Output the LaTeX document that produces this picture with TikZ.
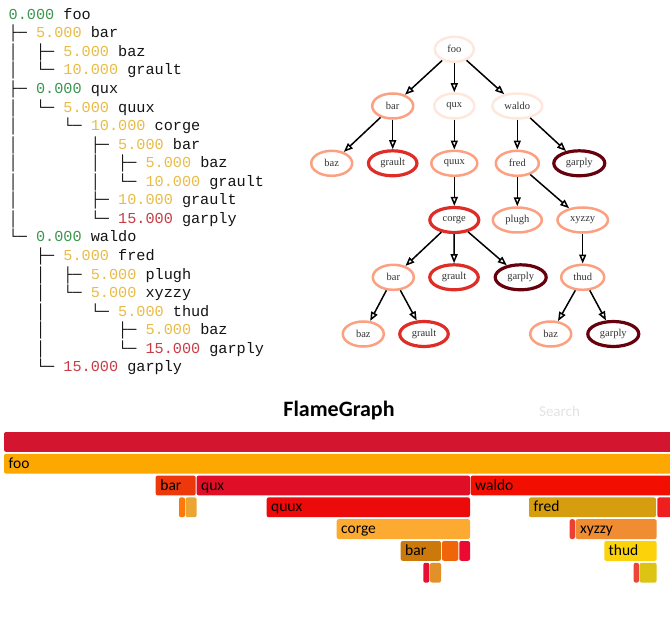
\documentclass[tikz,border=0pt]{standalone}
\usepackage{fontspec}
\setmainfont{Liberation Serif}
\newfontfamily\monof{Liberation Mono}
\newfontfamily\flamef{Carlito}
\usetikzlibrary{shapes.geometric,arrows.meta}
\definecolor{tgreen}{RGB}{60,150,80}
\definecolor{tyellow}{RGB}{232,188,72}
\definecolor{tred}{RGB}{200,60,70}
\definecolor{tdark}{RGB}{20,20,20}
\definecolor{glight}{RGB}{254,232,222}
\definecolor{gsalmon}{RGB}{252,160,130}
\definecolor{gred}{RGB}{222,45,38}
\definecolor{gdark}{RGB}{103,0,13}
\definecolor{cA}{RGB}{212,21,48}
\definecolor{cB}{RGB}{253,168,0}
\definecolor{cC}{RGB}{236,56,10}
\definecolor{cD}{RGB}{225,14,40}
\definecolor{cE}{RGB}{242,14,0}
\definecolor{cF}{RGB}{255,120,10}
\definecolor{cG}{RGB}{235,165,50}
\definecolor{cH}{RGB}{236,10,10}
\definecolor{cI}{RGB}{214,158,14}
\definecolor{cJ}{RGB}{240,30,30}
\definecolor{cK}{RGB}{252,170,50}
\definecolor{cL}{RGB}{238,64,50}
\definecolor{cM}{RGB}{240,140,50}
\definecolor{cN}{RGB}{205,120,10}
\definecolor{cO}{RGB}{240,100,10}
\definecolor{cP}{RGB}{235,10,50}
\definecolor{cQ}{RGB}{252,210,10}
\definecolor{cR}{RGB}{232,15,50}
\definecolor{cS}{RGB}{225,145,40}
\definecolor{cT}{RGB}{235,70,55}
\definecolor{cU}{RGB}{220,195,20}
\newcommand\Gn[1]{\textcolor{tgreen}{#1}}
\newcommand\Yl[1]{\textcolor{tyellow}{#1}}
\newcommand\Rd[1]{\textcolor{tred}{#1}}
\newcommand\fbar[4]{\fill[rounded corners=2pt,#4] (#1,{432+21.8*(#3-1)}) rectangle (#2,{432+21.8*(#3-1)+19.8});}
\begin{document}
\begin{tikzpicture}[x=1pt,y=-1pt,
  tl/.style={anchor=base west,inner sep=0,text=tdark,font=\monof\fontsize{15.2}{18}\selectfont},
  gn/.style={ellipse,draw,minimum height=25,inner sep=0,text=black!80,font=\fontsize{10.5}{12}\selectfont},
  lt/.style={gn,draw=glight,line width=2.5},
  sa/.style={gn,draw=gsalmon,line width=2.5},
  rd/.style={gn,draw=gred,line width=3.2},
  dk/.style={gn,draw=gdark,line width=3.2},
  ge/.style={-{Triangle[open,length=9pt,width=7pt]},line width=1.5,black},
  fl/.style={anchor=base west,inner sep=0,text=black,font=\flamef\fontsize{15.5}{18}\selectfont}]
\path[use as bounding box] (0,0) rectangle (670,618);
\clip (0,0) rectangle (670,618);
% ---------- text tree ----------
\node[tl] (t1)  at (8.5,{19.3+18.55*0})  {\Gn{0.000}~foo};
\node[tl] (t2)  at (8.5,{19.3+18.55*1})  {├─~\Yl{5.000}~bar};
\node[tl] (t3)  at (8.5,{19.3+18.55*2})  {│~~├─~\Yl{5.000}~baz};
\node[tl] (t4)  at (8.5,{19.3+18.55*3})  {│~~└─~\Yl{10.000}~grault};
\node[tl] (t5)  at (8.5,{19.3+18.55*4})  {├─~\Gn{0.000}~qux};
\node[tl] (t6)  at (8.5,{19.3+18.55*5})  {│~~└─~\Yl{5.000}~quux};
\node[tl] (t7)  at (8.5,{19.3+18.55*6})  {│~~~~~└─~\Yl{10.000}~corge};
\node[tl] (t8)  at (8.5,{19.3+18.55*7})  {│~~~~~~~~├─~\Yl{5.000}~bar};
\node[tl] (t9)  at (8.5,{19.3+18.55*8})  {│~~~~~~~~│~~├─~\Yl{5.000}~baz};
\node[tl] (t10) at (8.5,{19.3+18.55*9})  {│~~~~~~~~│~~└─~\Yl{10.000}~grault};
\node[tl] (t11) at (8.5,{19.3+18.55*10}) {│~~~~~~~~├─~\Yl{10.000}~grault};
\node[tl] (t12) at (8.5,{19.3+18.55*11}) {│~~~~~~~~└─~\Rd{15.000}~garply};
\node[tl] (t13) at (8.5,{19.3+18.55*12}) {└─~\Gn{0.000}~waldo};
\node[tl] (t14) at (8.5,{19.3+18.55*13}) {~~~├─~\Yl{5.000}~fred};
\node[tl] (t15) at (8.5,{19.3+18.55*14}) {~~~│~~├─~\Yl{5.000}~plugh};
\node[tl] (t16) at (8.5,{19.3+18.55*15}) {~~~│~~└─~\Yl{5.000}~xyzzy};
\node[tl] (t17) at (8.5,{19.3+18.55*16}) {~~~│~~~~~└─~\Yl{5.000}~thud};
\node[tl] (t18) at (8.5,{19.3+18.55*17}) {~~~│~~~~~~~~├─~\Yl{5.000}~baz};
\node[tl] (t19) at (8.5,{19.3+18.55*18}) {~~~│~~~~~~~~└─~\Rd{15.000}~garply};
\node[tl] (t20) at (8.5,{19.3+18.55*19}) {~~~└─~\Rd{15.000}~garply};
% ---------- graph ----------
\node[lt,minimum width=39] (foo) at (454.3,49.3) {foo};
\node[sa,minimum width=41] (bar) at (392.7,106) {bar};
\node[lt,minimum width=40] (qux) at (454.3,106) {qux};
\node[lt,minimum width=50] (waldo) at (517.3,106) {waldo};
\node[sa,minimum width=41] (baz) at (331.7,163.3) {baz};
\node[rd,minimum width=48.5] (grault) at (392.7,163.3) {grault};
\node[sa,minimum width=46] (quux) at (454.3,163.3) {quux};
\node[sa,minimum width=43] (fred) at (517.3,163.3) {fred};
\node[dk,minimum width=51] (garply) at (579.3,163.3) {garply};
\node[rd,minimum width=49] (corge) at (454.3,220) {corge};
\node[sa,minimum width=49] (plugh) at (517.3,220) {plugh};
\node[sa,minimum width=50.5] (xyzzy) at (582.7,220) {xyzzy};
\node[sa,minimum width=41] (barb) at (393.3,277.3) {bar};
\node[rd,minimum width=48.5] (graultb) at (454,277.3) {grault};
\node[dk,minimum width=51] (garplyb) at (520.7,277.3) {garply};
\node[sa,minimum width=43] (thud) at (582.7,277.3) {thud};
\node[sa,minimum width=41] (bazb) at (363.3,334) {baz};
\node[rd,minimum width=48.5] (graultc) at (424,334) {grault};
\node[sa,minimum width=41] (bazc) at (550.7,334) {baz};
\node[dk,minimum width=51] (garplyc) at (613.3,334) {garply};
\draw[ge] (foo) -- (bar);
\draw[ge] (foo) -- (qux);
\draw[ge] (foo) -- (waldo);
\draw[ge] (bar) -- (baz);
\draw[ge] (bar) -- (grault);
\draw[ge] (qux) -- (quux);
\draw[ge] (waldo) -- (fred);
\draw[ge] (waldo) -- (garply);
\draw[ge] (quux) -- (corge);
\draw[ge] (fred) -- (plugh);
\draw[ge] (fred) -- (xyzzy);
\draw[ge] (corge) -- (barb);
\draw[ge] (corge) -- (graultb);
\draw[ge] (corge) -- (garplyb);
\draw[ge] (xyzzy) -- (thud);
\draw[ge] (barb) -- (bazb);
\draw[ge] (barb) -- (graultc);
\draw[ge] (thud) -- (bazc);
\draw[ge] (thud) -- (garplyc);
% ---------- flame graph ----------
\node[anchor=base,inner sep=0,font=\flamef\bfseries\fontsize{22}{26}\selectfont] (title) at (339,416) {FlameGraph};
\node[anchor=base,inner sep=0,text=black!11,font=\flamef\fontsize{15}{18}\selectfont] (search) at (559.5,416) {Search};
\fbar{4}{676}{1}{cA}
\fbar{4}{676}{2}{cB}
\fbar{155.7}{195.7}{3}{cC}
\fbar{196.7}{470}{3}{cD}
\fbar{470.7}{676}{3}{cE}
\fbar{179}{185}{4}{cF}
\fbar{185.7}{196.7}{4}{cG}
\fbar{266.7}{470}{4}{cH}
\fbar{529}{656}{4}{cI}
\fbar{657.3}{676}{4}{cJ}
\fbar{336.7}{470}{5}{cK}
\fbar{569.7}{575}{5}{cL}
\fbar{575.7}{656.7}{5}{cM}
\fbar{400.7}{441}{6}{cN}
\fbar{442}{458.3}{6}{cO}
\fbar{459.3}{470}{6}{cP}
\fbar{604.3}{656.7}{6}{cQ}
\fbar{423.3}{429.3}{7}{cR}
\fbar{430}{441}{7}{cS}
\fbar{633.7}{639}{7}{cT}
\fbar{639.7}{656.7}{7}{cU}
\node[fl] (lfoo)   at (8.5,{432+21.8*1+14.4}) {foo};
\node[fl] (lbar)   at (160.2,{432+21.8*2+14.4}) {bar};
\node[fl] (lqux)   at (201,{432+21.8*2+14.4}) {qux};
\node[fl] (lwaldo) at (475,{432+21.8*2+14.4}) {waldo};
\node[fl] (lquux)  at (271,{432+21.8*3+14.4}) {quux};
\node[fl] (lfred)  at (533.5,{432+21.8*3+14.4}) {fred};
\node[fl] (lcorge) at (341,{432+21.8*4+14.4}) {corge};
\node[fl] (lxyzzy) at (580,{432+21.8*4+14.4}) {xyzzy};
\node[fl] (lbarb)  at (405,{432+21.8*5+14.4}) {bar};
\node[fl] (lthud)  at (608.5,{432+21.8*5+14.4}) {thud};
\end{tikzpicture}
\end{document}
